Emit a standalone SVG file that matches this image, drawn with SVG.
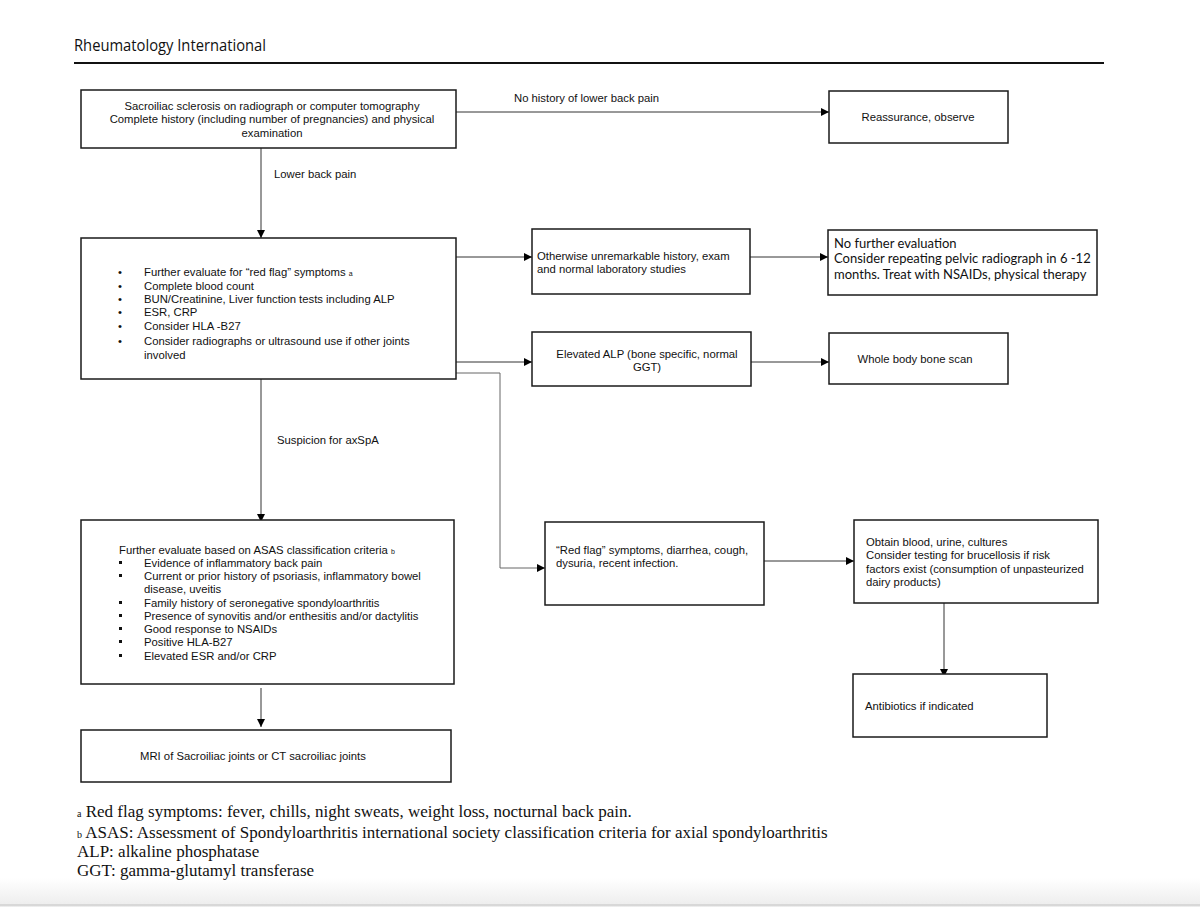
<svg xmlns="http://www.w3.org/2000/svg" width="1200" height="907" viewBox="0 0 1200 907">
<defs>
<marker id="arr" viewBox="0 0 10 10" refX="10" refY="5" markerWidth="8" markerHeight="8" markerUnits="userSpaceOnUse" orient="auto">
<path d="M0,0 L10,5 L0,10 z" fill="#000"/>
</marker>
<linearGradient id="bot" x1="0" y1="0" x2="0" y2="1">
<stop offset="0" stop-color="#ffffff"/>
<stop offset="1" stop-color="#ececec"/>
</linearGradient>
<style>
.box{fill:#fff;stroke:#1a1a1a;stroke-width:1.5}
.t{font-family:"Liberation Sans",Arial,sans-serif;font-size:11.3px;fill:#111}
.c{text-anchor:middle}
.cal{font-family:Lato,"Open Sans",sans-serif;font-size:13px;fill:#111}
.ln{fill:none;stroke:#333;stroke-width:1}
.gl{fill:none;stroke:#666;stroke-width:1}
.fn{font-family:"Liberation Serif","Times New Roman",serif;font-size:17px;fill:#111}
.sm{font-family:"Liberation Sans",Arial,sans-serif;font-size:7px}
</style>
</defs>
<rect x="0" y="0" width="1200" height="907" fill="#fff"/>
<rect x="0" y="878" width="1200" height="29" fill="url(#bot)"/>
<line x1="0" y1="905" x2="1200" y2="905" stroke="#d8d8d8" stroke-width="2"/>

<g id="header">
<text x="74" y="51" font-family="Open Sans,Lato,sans-serif" font-size="16" fill="#111" textLength="192" lengthAdjust="spacingAndGlyphs">Rheumatology International</text>
<line x1="74" y1="63" x2="1104" y2="63" stroke="#111" stroke-width="2"/>
</g>

<g id="connectors">
<line class="ln" x1="456" y1="112" x2="829" y2="112" marker-end="url(#arr)"/>
<text class="t" x="514" y="102">No history of lower back pain</text>
<line class="ln" x1="261" y1="148" x2="261" y2="238" marker-end="url(#arr)"/>
<text class="t" x="274" y="178">Lower back pain</text>
<line class="ln" x1="456" y1="257" x2="532" y2="257" marker-end="url(#arr)"/>
<line class="ln" x1="750" y1="257" x2="828" y2="257" marker-end="url(#arr)"/>
<line class="ln" x1="456" y1="362" x2="532" y2="362" marker-end="url(#arr)"/>
<line class="ln" x1="751" y1="362" x2="829" y2="362" marker-end="url(#arr)"/>
<polyline class="gl" points="456,373 500,373 500,568 545,568" marker-end="url(#arr)"/>
<line class="ln" x1="764" y1="561" x2="854" y2="561" marker-end="url(#arr)"/>
<line class="ln" x1="944" y1="603" x2="944" y2="677" marker-end="url(#arr)"/>
<line class="ln" x1="261" y1="379" x2="261" y2="522" marker-end="url(#arr)"/>
<text class="t" x="277" y="444" font-size="12.5">Suspicion for axSpA</text>
<line class="ln" x1="261" y1="688" x2="261" y2="727" marker-end="url(#arr)"/>
</g>

<g id="n1">
<rect class="box" x="81" y="90" width="375" height="58"/>
<text class="t c" x="272" y="110">Sacroiliac sclerosis on radiograph or computer tomography</text>
<text class="t c" x="272" y="123">Complete history (including number of pregnancies) and physical</text>
<text class="t c" x="272" y="137">examination</text>
</g>

<g id="n2">
<rect class="box" x="829" y="91" width="179" height="52"/>
<text class="t c" x="918" y="121">Reassurance, observe</text>
</g>

<g id="n3">
<rect class="box" x="81" y="238" width="375" height="141"/>
<g class="t">
<text x="118" y="276">•</text><text x="144" y="276">Further evaluate for “red flag” symptoms <tspan class="sm">a</tspan></text>
<text x="118" y="290">•</text><text x="144" y="290">Complete blood count</text>
<text x="118" y="303">•</text><text x="144" y="303">BUN/Creatinine, Liver function tests including ALP</text>
<text x="118" y="316">•</text><text x="144" y="316">ESR, CRP</text>
<text x="118" y="330">•</text><text x="144" y="330">Consider HLA -B27</text>
<text x="118" y="345">•</text><text x="144" y="345">Consider radiographs or ultrasound use if other joints</text>
<text x="144" y="359">involved</text>
</g>
</g>

<g id="n4">
<rect class="box" x="532" y="229" width="218" height="65"/>
<text class="t" x="537" y="260">Otherwise unremarkable history, exam</text>
<text class="t" x="537" y="273">and normal laboratory studies</text>
</g>

<g id="n5">
<rect class="box" x="828" y="230" width="269" height="65"/>
<text class="cal" x="834" y="248">No further evaluation</text>
<text class="cal" x="834" y="263">Consider repeating pelvic radiograph in 6 -12</text>
<text class="cal" x="834" y="279">months. Treat with NSAIDs, physical therapy</text>
</g>

<g id="n6">
<rect class="box" x="532" y="332" width="219" height="54"/>
<text class="t c" x="647" y="358">Elevated ALP (bone specific, normal</text>
<text class="t c" x="647" y="371">GGT)</text>
</g>

<g id="n7">
<rect class="box" x="829" y="333" width="179" height="51"/>
<text class="t c" x="915" y="363">Whole body bone scan</text>
</g>

<g id="n8">
<rect class="box" x="545" y="522" width="219" height="83"/>
<text class="t" x="556" y="554">“Red flag” symptoms, diarrhea, cough,</text>
<text class="t" x="556" y="567">dysuria, recent infection.</text>
</g>

<g id="n9">
<rect class="box" x="854" y="520" width="244" height="83"/>
<text class="t" x="866" y="546">Obtain blood, urine, cultures</text>
<text class="t" x="866" y="559">Consider testing for brucellosis if risk</text>
<text class="t" x="866" y="573">factors exist (consumption of unpasteurized</text>
<text class="t" x="866" y="586">dairy products)</text>
</g>

<g id="n10">
<rect class="box" x="853" y="674" width="194" height="63"/>
<text class="t" x="865" y="710">Antibiotics if indicated</text>
</g>

<g id="n11">
<rect class="box" x="81" y="520" width="373" height="164"/>
<g class="t">
<text x="119" y="554">Further evaluate based on ASAS classification criteria <tspan class="sm">b</tspan></text>
<rect x="119" y="561" width="3" height="3" fill="#111"/><text x="144" y="567">Evidence of inflammatory back pain</text>
<rect x="119" y="574" width="3" height="3" fill="#111"/><text x="144" y="580">Current or prior history of psoriasis, inflammatory bowel</text>
<text x="144" y="593">disease, uveitis</text>
<rect x="119" y="601" width="3" height="3" fill="#111"/><text x="144" y="607">Family history of seronegative spondyloarthritis</text>
<rect x="119" y="614" width="3" height="3" fill="#111"/><text x="144" y="620">Presence of synovitis and/or enthesitis and/or dactylitis</text>
<rect x="119" y="627" width="3" height="3" fill="#111"/><text x="144" y="633">Good response to NSAIDs</text>
<rect x="119" y="640" width="3" height="3" fill="#111"/><text x="144" y="646">Positive HLA-B27</text>
<rect x="119" y="654" width="3" height="3" fill="#111"/><text x="144" y="660">Elevated ESR and/or CRP</text>
</g>
</g>

<g id="n12">
<rect class="box" x="81" y="730" width="370" height="52"/>
<text class="t" x="140" y="760">MRI of Sacroiliac joints or CT sacroiliac joints</text>
</g>

<g id="footnotes" class="fn">
<text x="77" y="817"><tspan font-size="10">a</tspan> Red flag symptoms: fever, chills, night sweats, weight loss, nocturnal back pain.</text>
<text x="77" y="838"><tspan font-size="10">b</tspan> ASAS: Assessment of Spondyloarthritis international society classification criteria for axial spondyloarthritis</text>
<text x="77" y="857">ALP: alkaline phosphatase</text>
<text x="77" y="876">GGT: gamma-glutamyl transferase</text>
</g>
</svg>
